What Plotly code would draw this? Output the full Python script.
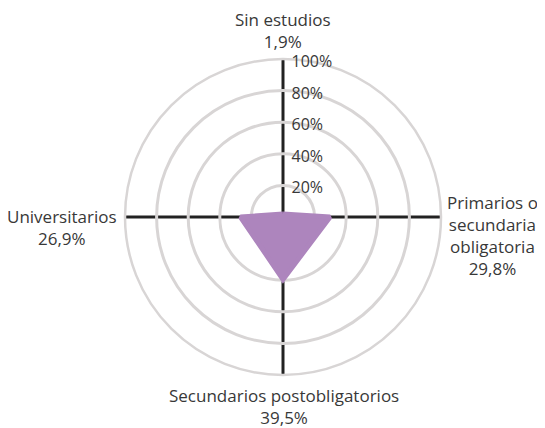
import plotly.graph_objects as go

categories = ["Sin estudios", "Primarios o<br>secundaria<br>obligatoria", "Secundarios postobligatorios", "Universitarios"]
values = [1.9, 29.8, 39.5, 26.9]
value_labels = ["1,9%", "29,8%", "39,5%", "26,9%"]
radial_ticks = [20, 40, 60, 80, 100]
radial_ticktext = ["20%", "40%", "60%", "80%", "100%"]

W, H = 545, 428
OFF = 8  # page body margin offset
cx, cy, R = 283 - OFF, 217 - OFF, 158

fig = go.Figure()
fig.add_trace(go.Scatterpolar(
    r=values + [values[0]],
    theta=categories + [categories[0]],
    mode="lines",
    fill="toself",
    fillcolor="#ad85bd",
    line=dict(color="#ad85bd", width=5),
    hoverinfo="skip",
))

font = dict(family="'Open Sans', sans-serif", size=17, color="#383838")

fig.update_layout(
    width=W, height=H,
    margin=dict(l=0, r=0, t=0, b=0),
    paper_bgcolor="white",
    plot_bgcolor="white",
    showlegend=False,
    font=font,
    polar=dict(
        domain=dict(x=[(cx - R) / W, (cx + R) / W], y=[(H - cy - R) / H, (H - cy + R) / H]),
        bgcolor="white",
        radialaxis=dict(
            range=[0, 100],
            tickvals=radial_ticks,
            ticktext=radial_ticktext,
            showline=False,
            angle=90,
            side="clockwise",
            showgrid=True,
            gridcolor="#d8d5d5",
            gridwidth=2.5,
            ticks="",
            tickfont=dict(family="'Open Sans', sans-serif", size=16, color="#383838"),
        ),
        angularaxis=dict(
            categoryorder="array",
            categoryarray=categories,
            rotation=90,
            direction="clockwise",
            showticklabels=False,
            ticks="",
            showgrid=True,
            gridcolor="#222222",
            gridwidth=2.5,
            showline=True,
            linecolor="#d8d5d5",
            linewidth=2.5,
        ),
    ),
)

# category labels placed around the chart (reference pixel coords)
label_pos = [
    (283, 31),
    (492, 235),
    (284, 406),
    (62, 227),
]
for cat, vl, (x, y) in zip(categories, value_labels, label_pos):
    fig.add_annotation(
        x=(x - OFF) / W, y=1 - (y - OFF) / H, xref="paper", yref="paper",
        text=cat + "<br>" + vl, showarrow=False, align="center",
        xanchor="center", yanchor="middle", font=font, borderpad=0,
    )

fig.write_html("out.html")
